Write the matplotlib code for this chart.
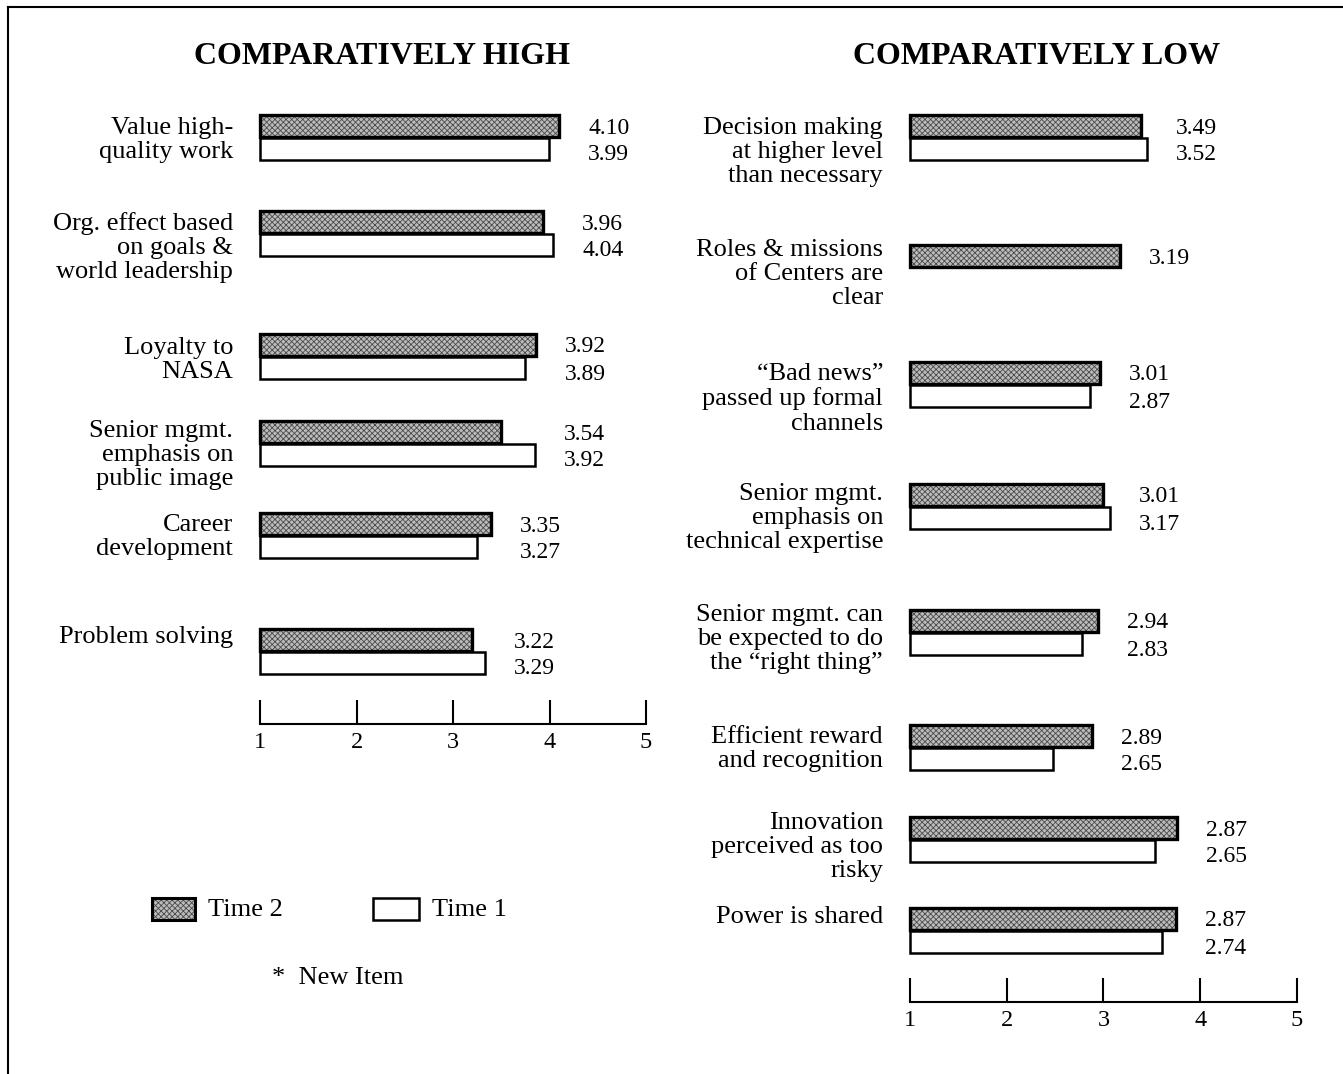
import numpy as np
import matplotlib
matplotlib.use('Agg')
import matplotlib.pyplot as plt
from matplotlib.patches import Rectangle
from matplotlib.lines import Line2D

plt.rcParams['font.family'] = ['Liberation Serif', 'DejaVu Serif']
plt.rcParams['hatch.linewidth'] = 0.6

# ---- data (bar lengths as drawn, printed labels as printed) ----
left_items = ["Value high-\nquality work",
              "Org. effect based\non goals &\nworld leadership",
              "Loyalty to\nNASA",
              "Senior mgmt.\nemphasis on\npublic image",
              "Career\ndevelopment",
              "Problem solving"]
left_t2 = [4.10, 3.93, 3.86, 3.50, 3.39, 3.20]
left_t1 = [3.99, 4.04, 3.75, 3.85, 3.25, 3.33]
left_t2_lab = ["4.10", "3.96", "3.92", "3.54", "3.35", "3.22"]
left_t1_lab = ["3.99", "4.04", "3.89", "3.92", "3.27", "3.29"]

right_items = ["Decision making\nat higher level\nthan necessary",
               "Roles & missions\nof Centers are\nclear",
               "\u201cBad news\u201d\npassed up formal\nchannels",
               "Senior mgmt.\nemphasis on\ntechnical expertise",
               "Senior mgmt. can\nbe expected to do\nthe \u201cright thing\u201d",
               "Efficient reward\nand recognition",
               "Innovation\nperceived as too\nrisky",
               "Power is shared"]
right_t2 = [3.39, 3.17, 2.96, 2.99, 2.94, 2.88, 3.76, 3.75]
right_t1 = [3.45, np.nan, 2.86, 3.07, 2.78, 2.48, 3.53, 3.60]
right_t2_lab = ["3.49", "3.19", "3.01", "3.01", "2.94", "2.89", "2.87", "2.87"]
right_t1_lab = ["3.52", "", "2.87", "3.17", "2.83", "2.65", "2.65", "2.74"]

ticks = [1, 2, 3, 4, 5]

# ---- layout (pixels, y downwards) ----
W, H = 1343, 1074
left_top = [115, 211, 334, 421, 513, 629]
left_txt = [127, 222, 347, 430, 524, 636]
right_top = [115, 245, 362, 484, 610, 725, 817, 908]
right_txt = [127, 249, 373, 493, 614, 736, 822, 916]
bar_h = 22
shade_face = '#bcbcbc'
shade_hatch = '#4a4a4a'

fig = plt.figure(figsize=(W / 100, H / 100), dpi=100)
fig.patch.set_facecolor('white')


def panel(x0, x1, axis_y, items, t2, t1, lab2, lab1, tops, txt_y, title, title_x):
    ax = fig.add_axes([x0 / W, 0, (x1 - x0) / W, 1])
    ax.set_xlim(1, 5)
    ax.set_ylim(H, 0)
    ax.patch.set_alpha(0)
    for s in ['left', 'right', 'top']:
        ax.spines[s].set_visible(False)
    ax.spines['bottom'].set_position(('data', axis_y))
    ax.spines['bottom'].set_linewidth(1.5)
    ax.set_yticks([])
    ax.set_xticks(ticks)
    ax.set_xticklabels([str(t) for t in ticks], fontsize=17.5)
    ax.tick_params(axis='x', direction='in', length=17, width=1.5, pad=6)

    tops = np.array(tops)
    t2 = np.array(t2)
    t1 = np.array(t1)
    y2 = tops + bar_h / 2
    y1 = tops + bar_h + 1 + bar_h / 2
    # shaded Time 2 bars
    ax.barh(y2, t2 - 1, left=1, height=bar_h, color=shade_face,
            edgecolor=shade_hatch, linewidth=0, hatch='xxxxxx', clip_on=False)
    ax.barh(y2, t2 - 1, left=1, height=bar_h, fill=False,
            edgecolor='black', linewidth=2.4, clip_on=False)
    # white Time 1 bars
    m = ~np.isnan(t1)
    ax.barh(y1[m], t1[m] - 1, left=1, height=bar_h, color='white',
            edgecolor='black', linewidth=1.8, clip_on=False)

    for i in range(len(items)):
        vx = np.nanmax([t2[i], t1[i]]) + 0.3
        ax.text(vx, y2[i] + 2, lab2[i], fontsize=17, va='center', ha='left')
        if lab1[i]:
            ax.text(vx, y1[i] + 6, lab1[i], fontsize=17, va='center', ha='left')
        fig.text((x0 - 27) / W, 1 - (txt_y[i] - 10) / H, items[i], fontsize=19,
                 ha='right', va='top', linespacing=1.13)

    fig.text(title_x / W, 1 - 57 / H, title, fontsize=23, fontweight='bold',
             ha='center', va='center')
    return ax


panel(260, 646, 724, left_items, left_t2, left_t1, left_t2_lab, left_t1_lab,
      left_top, left_txt, "COMPARATIVELY HIGH", 382)
panel(910, 1297, 1002, right_items, right_t2, right_t1, right_t2_lab, right_t1_lab,
      right_top, right_txt, "COMPARATIVELY LOW", 1037)

# legend
fig.patches.append(Rectangle((152 / W, 1 - 920 / H), 43 / W, 22 / H,
                             transform=fig.transFigure, facecolor=shade_face,
                             edgecolor=shade_hatch, linewidth=0, hatch='xxxxxx'))
fig.patches.append(Rectangle((152 / W, 1 - 920 / H), 43 / W, 22 / H,
                             transform=fig.transFigure, fill=False,
                             edgecolor='black', linewidth=2.2))
fig.text(208 / W, 1 - 910 / H, "Time 2", fontsize=19, va='center', ha='left')
fig.patches.append(Rectangle((373 / W, 1 - 920 / H), 46 / W, 22 / H,
                             transform=fig.transFigure, facecolor='white',
                             edgecolor='black', linewidth=1.8))
fig.text(432 / W, 1 - 910 / H, "Time 1", fontsize=19, va='center', ha='left')
fig.text(272 / W, 1 - 978 / H, "*  New Item", fontsize=19, va='center', ha='left')

# frame (top and left edges of the scanned box)
fig.add_artist(Line2D([8 / W, 1], [1 - 7 / H, 1 - 7 / H], transform=fig.transFigure,
                      color='black', linewidth=1.5))
fig.add_artist(Line2D([8 / W, 8 / W], [1 - 7 / H, 0], transform=fig.transFigure,
                      color='black', linewidth=1.5))

fig.savefig('out.png', dpi=100)
